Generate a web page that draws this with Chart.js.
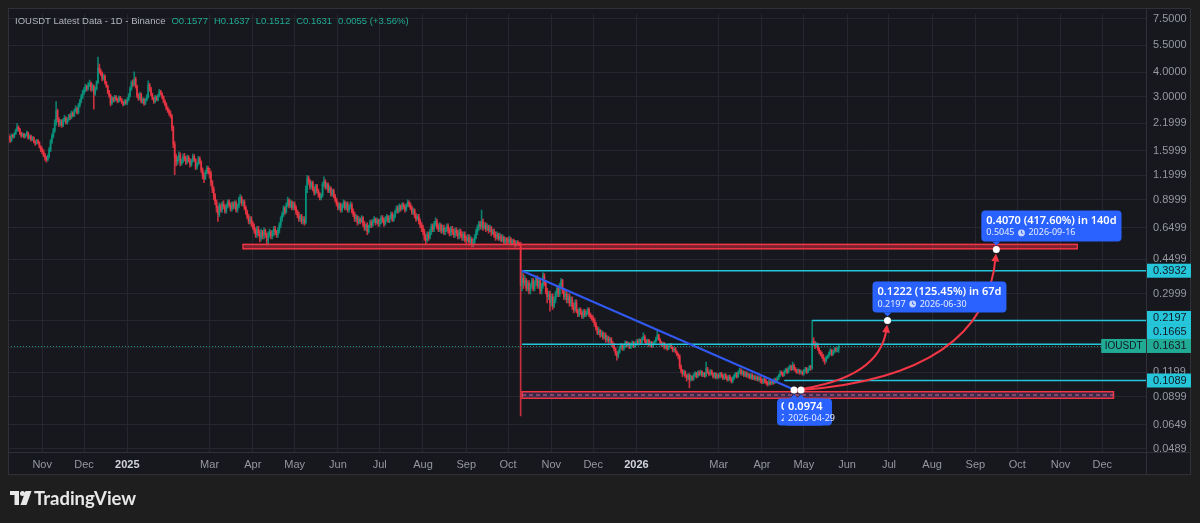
<!DOCTYPE html>
<html>
<head>
<meta charset="utf-8">
<script src="https://cdn.jsdelivr.net/npm/chart.js@4.4.1/dist/chart.umd.min.js"></script>
<style>
  html, body { margin: 0; padding: 0; background: #1e1e1e; }
</style>
</head>
<body>
<canvas id="chart" width="1200" height="523"></canvas>
<script>
// daily IOUSDT candles, day 0 = 2024-10-08
const firstOpen = 1.90;
const closes = [
  // Oct 2024
  1.86, 1.80, 1.92, 1.88, 1.95, 2.02, 2.10, 2.05, 1.96, 1.90, 1.94, 1.88, 1.92, 1.97, 1.85, 1.90, 1.82, 1.86, 1.78, 1.74, 1.80, 1.76, 1.68, 1.62,
  // Nov
  1.58, 1.52, 1.47, 1.44, 1.50, 1.62, 1.78, 1.90, 2.02, 2.20, 2.55, 2.30, 2.18, 2.25, 2.15, 2.28, 2.35, 2.22, 2.30, 2.40, 2.36, 2.48, 2.42, 2.55, 2.62, 2.50, 2.72, 2.85, 3.00, 3.15,
  // Dec
  3.25, 3.38, 3.30, 3.45, 3.52, 3.28, 3.40, 3.12, 3.30, 3.55, 4.20, 4.05, 3.95, 3.70, 3.82, 3.55, 3.40, 3.20, 3.05, 2.78, 2.95, 2.88, 3.00, 2.92, 2.85, 2.98, 2.90, 2.82, 2.75, 2.86, 2.80,
  // Jan 2025
  2.92, 3.05, 3.30, 3.55, 3.48, 3.70, 3.40, 3.05, 2.95, 3.10, 2.85, 2.92, 2.78, 2.90, 3.00, 3.45, 3.30, 3.10, 2.95, 2.85, 3.00, 2.90, 3.05, 3.20, 3.12, 3.00, 2.85, 2.75, 2.62, 2.55, 2.48,
  // Feb
  2.40, 2.10, 1.72, 1.48, 1.40, 1.45, 1.52, 1.38, 1.42, 1.50, 1.46, 1.40, 1.48, 1.43, 1.36, 1.42, 1.50, 1.44, 1.32, 1.38, 1.46, 1.40, 1.28, 1.20, 1.16, 1.24, 1.30, 1.25,
  // Mar
  1.22, 1.10, 1.02, 0.94, 0.88, 0.82, 0.76, 0.84, 0.80, 0.86, 0.83, 0.79, 0.84, 0.88, 0.85, 0.81, 0.86, 0.83, 0.87, 0.80, 0.84, 0.90, 0.92, 0.86, 0.88, 0.82, 0.78, 0.74, 0.70, 0.72, 0.68,
  // Apr
  0.66, 0.63, 0.60, 0.64, 0.61, 0.58, 0.62, 0.59, 0.63, 0.60, 0.56, 0.60, 0.62, 0.59, 0.61, 0.64, 0.62, 0.60, 0.63, 0.67, 0.72, 0.76, 0.82, 0.78, 0.85, 0.90, 0.84, 0.88, 0.82, 0.86,
  // May
  0.82, 0.78, 0.75, 0.72, 0.74, 0.70, 0.72, 0.69, 1.02, 1.16, 1.12, 1.05, 1.10, 1.02, 0.98, 1.06, 1.00, 0.96, 0.92, 0.95, 1.08, 1.12, 1.04, 1.08, 1.00, 1.03, 0.96, 1.00, 0.94, 0.90, 0.86,
  // Jun
  0.82, 0.85, 0.80, 0.84, 0.87, 0.82, 0.86, 0.80, 0.83, 0.85, 0.79, 0.76, 0.72, 0.74, 0.69, 0.72, 0.70, 0.73, 0.68, 0.65, 0.67, 0.62, 0.66, 0.69, 0.67, 0.70, 0.72, 0.69, 0.71, 0.68,
  // Jul
  0.70, 0.73, 0.71, 0.68, 0.72, 0.74, 0.70, 0.73, 0.76, 0.71, 0.74, 0.78, 0.82, 0.79, 0.84, 0.81, 0.85, 0.83, 0.80, 0.84, 0.87, 0.85, 0.82, 0.78, 0.80, 0.75, 0.72, 0.74, 0.70, 0.67, 0.65,
  // Aug
  0.62, 0.58, 0.56, 0.60, 0.58, 0.62, 0.66, 0.64, 0.68, 0.70, 0.66, 0.64, 0.67, 0.63, 0.65, 0.62, 0.64, 0.66, 0.63, 0.61, 0.64, 0.62, 0.60, 0.63, 0.61, 0.59, 0.62, 0.60, 0.58, 0.60, 0.57,
  // Sep
  0.56, 0.58, 0.55, 0.57, 0.54, 0.55, 0.58, 0.62, 0.65, 0.68, 0.66, 0.70, 0.65, 0.67, 0.64, 0.66, 0.63, 0.65, 0.61, 0.62, 0.60, 0.58, 0.60, 0.57, 0.59, 0.56, 0.58, 0.55, 0.57, 0.56,
  // Oct
  0.55, 0.57, 0.54, 0.56, 0.55, 0.53, 0.55, 0.54, 0.53, 0.33, 0.36, 0.34, 0.35, 0.32, 0.34, 0.31, 0.33, 0.35, 0.32, 0.34, 0.36, 0.33, 0.35, 0.31, 0.33, 0.37, 0.34, 0.31, 0.29, 0.30, 0.27,
  // Nov
  0.29, 0.26, 0.28, 0.30, 0.32, 0.30, 0.33, 0.35, 0.31, 0.29, 0.30, 0.28, 0.29, 0.27, 0.28, 0.26, 0.25, 0.27, 0.245, 0.235, 0.25, 0.24, 0.23, 0.245, 0.235, 0.24, 0.25, 0.235, 0.23, 0.225,
  // Dec
  0.22, 0.21, 0.20, 0.19, 0.195, 0.185, 0.19, 0.18, 0.185, 0.175, 0.18, 0.172, 0.178, 0.168, 0.165, 0.158, 0.15, 0.145, 0.152, 0.16, 0.165, 0.158, 0.162, 0.17, 0.164, 0.168, 0.16, 0.166, 0.17, 0.163, 0.167,
  // Jan 2026
  0.172, 0.168, 0.175, 0.17, 0.178, 0.182, 0.172, 0.168, 0.174, 0.165, 0.17, 0.163, 0.168, 0.172, 0.178, 0.185, 0.176, 0.17, 0.165, 0.168, 0.16, 0.164, 0.158, 0.162, 0.165, 0.16, 0.155, 0.158, 0.152, 0.148, 0.145,
  // Feb
  0.128, 0.122, 0.118, 0.121, 0.115, 0.112, 0.116, 0.11, 0.114, 0.111, 0.116, 0.119, 0.114, 0.12, 0.117, 0.121, 0.116, 0.119, 0.115, 0.125, 0.12, 0.117, 0.122, 0.118, 0.114, 0.118, 0.113, 0.116,
  // Mar
  0.114, 0.118, 0.115, 0.112, 0.116, 0.113, 0.11, 0.114, 0.111, 0.108, 0.112, 0.115, 0.118, 0.114, 0.12, 0.123, 0.118, 0.121, 0.116, 0.119, 0.115, 0.117, 0.113, 0.116, 0.112, 0.114, 0.111, 0.113, 0.11, 0.112, 0.109,
  // Apr
  0.107, 0.11, 0.108, 0.106, 0.104, 0.107, 0.105, 0.108, 0.106, 0.11, 0.108, 0.112, 0.115, 0.12, 0.118, 0.116, 0.121, 0.124, 0.12, 0.126, 0.128, 0.124, 0.13, 0.125, 0.122, 0.12, 0.123, 0.119, 0.121, 0.118,
  // May
  0.122, 0.125, 0.12, 0.124, 0.128, 0.126, 0.172, 0.168, 0.162, 0.165, 0.158, 0.152, 0.148, 0.145, 0.14, 0.137, 0.142, 0.145, 0.15, 0.155, 0.148, 0.152, 0.158, 0.155, 0.1576, 0.1631
];
const highs = [
  1.95, 1.90, 1.95, 1.94, 1.98, 2.06, 2.20, 2.14, 2.08, 1.99, 1.97, 1.96, 1.95, 2.01, 1.99, 1.93, 1.92, 1.89, 1.88, 1.80, 1.83, 1.82, 1.78, 1.70,
  1.66, 1.62, 1.55, 1.50, 1.53, 1.66, 1.82, 1.95, 2.08, 2.30, 2.84, 2.60, 2.36, 2.30, 2.30, 2.33, 2.42, 2.38, 2.34, 2.45, 2.46, 2.54, 2.52, 2.60, 2.70, 2.66, 2.78, 2.92, 3.08, 3.25,
  3.35, 3.48, 3.45, 3.55, 3.65, 3.58, 3.50, 3.46, 3.38, 3.62, 4.78, 4.40, 4.15, 4.02, 3.92, 3.88, 3.60, 3.45, 3.24, 3.10, 3.02, 2.99, 3.06, 3.05, 2.96, 3.04, 3.02, 2.95, 2.85, 2.92, 2.90,
  2.98, 3.12, 3.38, 3.62, 3.66, 4.02, 3.78, 3.45, 3.12, 3.18, 3.14, 2.98, 2.96, 2.95, 3.08, 3.62, 3.52, 3.36, 3.14, 2.99, 3.06, 3.04, 3.10, 3.28, 3.24, 3.15, 3.04, 2.90, 2.80, 2.68, 2.60,
  2.55, 2.44, 2.14, 1.78, 1.54, 1.50, 1.58, 1.56, 1.46, 1.54, 1.55, 1.50, 1.52, 1.51, 1.46, 1.45, 1.54, 1.53, 1.46, 1.40, 1.50, 1.49, 1.42, 1.31, 1.24, 1.27, 1.34, 1.33,
  1.30, 1.26, 1.13, 1.05, 0.97, 0.90, 0.84, 0.87, 0.86, 0.88, 0.89, 0.85, 0.86, 0.90, 0.90, 0.87, 0.88, 0.88, 0.89, 0.89, 0.86, 0.93, 0.96, 0.94, 0.90, 0.90, 0.84, 0.80, 0.76, 0.74, 0.74,
  0.70, 0.68, 0.65, 0.66, 0.66, 0.63, 0.64, 0.63, 0.65, 0.64, 0.61, 0.62, 0.64, 0.63, 0.63, 0.66, 0.66, 0.63, 0.65, 0.69, 0.74, 0.78, 0.84, 0.83, 0.87, 0.93, 0.91, 0.90, 0.89, 0.88,
  0.88, 0.84, 0.80, 0.78, 0.76, 0.76, 0.74, 0.74, 1.06, 1.20, 1.19, 1.14, 1.12, 1.12, 1.05, 1.08, 1.08, 1.02, 0.98, 0.97, 1.11, 1.18, 1.14, 1.10, 1.10, 1.06, 1.05, 1.02, 1.02, 0.96, 0.92,
  0.88, 0.87, 0.87, 0.86, 0.90, 0.89, 0.88, 0.88, 0.85, 0.88, 0.87, 0.81, 0.78, 0.76, 0.75, 0.74, 0.73, 0.75, 0.74, 0.70, 0.68, 0.69, 0.67, 0.71, 0.71, 0.72, 0.74, 0.73, 0.73, 0.72,
  0.72, 0.75, 0.75, 0.73, 0.74, 0.76, 0.75, 0.75, 0.78, 0.78, 0.76, 0.80, 0.84, 0.84, 0.86, 0.85, 0.87, 0.87, 0.85, 0.86, 0.90, 0.89, 0.87, 0.84, 0.82, 0.81, 0.77, 0.76, 0.76, 0.72, 0.69,
  0.67, 0.64, 0.60, 0.62, 0.62, 0.64, 0.68, 0.68, 0.70, 0.73, 0.72, 0.68, 0.69, 0.68, 0.67, 0.67, 0.65, 0.68, 0.68, 0.65, 0.66, 0.66, 0.64, 0.65, 0.65, 0.63, 0.64, 0.64, 0.62, 0.62, 0.62,
  0.59, 0.60, 0.60, 0.59, 0.58, 0.57, 0.60, 0.64, 0.67, 0.70, 0.70, 0.80, 0.72, 0.69, 0.69, 0.68, 0.67, 0.67, 0.66, 0.64, 0.64, 0.62, 0.62, 0.61, 0.61, 0.60, 0.60, 0.59, 0.58, 0.58,
  0.58, 0.59, 0.58, 0.57, 0.57, 0.56, 0.56, 0.56, 0.55, 0.55, 0.393, 0.38, 0.37, 0.36, 0.35, 0.35, 0.34, 0.36, 0.36, 0.35, 0.37, 0.37, 0.36, 0.36, 0.34, 0.385, 0.38, 0.35, 0.32, 0.31, 0.31,
  0.30, 0.30, 0.29, 0.31, 0.33, 0.33, 0.34, 0.36, 0.355, 0.32, 0.31, 0.31, 0.30, 0.30, 0.29, 0.29, 0.27, 0.28, 0.28, 0.25, 0.255, 0.255, 0.245, 0.25, 0.25, 0.245, 0.255, 0.255, 0.24, 0.235,
  0.232, 0.226, 0.215, 0.205, 0.202, 0.198, 0.196, 0.193, 0.19, 0.19, 0.184, 0.183, 0.18, 0.18, 0.172, 0.168, 0.16, 0.153, 0.156, 0.163, 0.168, 0.167, 0.165, 0.173, 0.172, 0.171, 0.17, 0.168, 0.173, 0.172, 0.17,
  0.175, 0.176, 0.178, 0.177, 0.181, 0.19, 0.185, 0.176, 0.177, 0.176, 0.172, 0.172, 0.17, 0.174, 0.181, 0.196, 0.187, 0.178, 0.172, 0.17, 0.17, 0.166, 0.166, 0.164, 0.168, 0.167, 0.162, 0.16, 0.16, 0.154, 0.15,
  0.147, 0.131, 0.124, 0.123, 0.122, 0.117, 0.118, 0.118, 0.116, 0.115, 0.118, 0.121, 0.12, 0.122, 0.122, 0.123, 0.122, 0.12, 0.12, 0.135, 0.127, 0.121, 0.124, 0.123, 0.119, 0.12, 0.119, 0.118,
  0.118, 0.12, 0.12, 0.117, 0.118, 0.118, 0.115, 0.116, 0.116, 0.113, 0.114, 0.117, 0.12, 0.12, 0.122, 0.126, 0.125, 0.123, 0.122, 0.121, 0.121, 0.119, 0.118, 0.118, 0.118, 0.116, 0.116, 0.115, 0.115, 0.114, 0.114,
  0.111, 0.112, 0.112, 0.11, 0.108, 0.109, 0.109, 0.11, 0.11, 0.112, 0.112, 0.114, 0.117, 0.122, 0.122, 0.12, 0.123, 0.126, 0.126, 0.128, 0.131, 0.13, 0.135, 0.132, 0.127, 0.124, 0.125, 0.124, 0.123, 0.122,
  0.124, 0.127, 0.127, 0.126, 0.13, 0.13, 0.2197, 0.18, 0.172, 0.17, 0.168, 0.16, 0.155, 0.152, 0.148, 0.142, 0.145, 0.147, 0.152, 0.158, 0.157, 0.155, 0.16, 0.16, 0.16, 0.1637
];
const lows = [
  1.82, 1.76, 1.78, 1.85, 1.86, 1.93, 2.00, 2.01, 1.93, 1.87, 1.88, 1.85, 1.86, 1.90, 1.83, 1.83, 1.79, 1.80, 1.75, 1.70, 1.72, 1.73, 1.65, 1.58,
  1.54, 1.49, 1.43, 1.40, 1.42, 1.47, 1.58, 1.74, 1.86, 1.98, 2.15, 2.24, 2.12, 2.14, 2.10, 2.12, 2.24, 2.18, 2.18, 2.26, 2.30, 2.32, 2.38, 2.38, 2.50, 2.45, 2.46, 2.66, 2.80, 2.94,
  3.08, 3.18, 3.22, 3.25, 3.38, 3.20, 3.22, 2.60, 3.05, 3.25, 3.50, 3.95, 3.85, 3.62, 3.65, 3.48, 3.35, 3.12, 2.98, 2.70, 2.74, 2.82, 2.84, 2.88, 2.80, 2.82, 2.86, 2.78, 2.70, 2.72, 2.76,
  2.74, 2.86, 3.00, 3.24, 3.38, 3.42, 3.32, 2.98, 2.88, 2.90, 2.80, 2.78, 2.72, 2.74, 2.86, 2.96, 3.20, 3.04, 2.90, 2.78, 2.80, 2.86, 2.86, 3.00, 3.06, 2.94, 2.80, 2.70, 2.58, 2.50, 2.42,
  2.35, 2.02, 1.66, 1.21, 1.34, 1.36, 1.42, 1.34, 1.35, 1.39, 1.42, 1.36, 1.38, 1.40, 1.32, 1.33, 1.40, 1.41, 1.28, 1.29, 1.35, 1.37, 1.24, 1.15, 1.10, 1.14, 1.22, 1.22,
  1.16, 1.06, 0.98, 0.90, 0.85, 0.78, 0.70, 0.74, 0.78, 0.78, 0.81, 0.77, 0.77, 0.82, 0.83, 0.79, 0.79, 0.81, 0.81, 0.78, 0.78, 0.82, 0.87, 0.84, 0.84, 0.80, 0.76, 0.72, 0.68, 0.68, 0.66,
  0.64, 0.61, 0.58, 0.58, 0.59, 0.55, 0.56, 0.57, 0.57, 0.58, 0.53, 0.54, 0.58, 0.57, 0.57, 0.59, 0.60, 0.58, 0.58, 0.61, 0.65, 0.70, 0.74, 0.76, 0.77, 0.83, 0.82, 0.82, 0.80, 0.80,
  0.80, 0.76, 0.73, 0.70, 0.70, 0.68, 0.68, 0.67, 0.68, 0.98, 1.08, 1.02, 1.02, 1.00, 0.95, 0.96, 0.98, 0.93, 0.90, 0.90, 0.93, 1.05, 1.02, 1.02, 0.98, 0.98, 0.94, 0.94, 0.92, 0.88, 0.84,
  0.80, 0.80, 0.78, 0.78, 0.82, 0.80, 0.80, 0.78, 0.78, 0.81, 0.77, 0.74, 0.70, 0.70, 0.67, 0.68, 0.68, 0.69, 0.66, 0.63, 0.63, 0.60, 0.61, 0.65, 0.65, 0.66, 0.69, 0.67, 0.68, 0.66,
  0.66, 0.68, 0.69, 0.66, 0.67, 0.70, 0.69, 0.69, 0.72, 0.70, 0.70, 0.73, 0.77, 0.77, 0.78, 0.79, 0.80, 0.81, 0.78, 0.79, 0.83, 0.83, 0.80, 0.76, 0.76, 0.73, 0.70, 0.71, 0.68, 0.65, 0.62,
  0.60, 0.56, 0.54, 0.55, 0.56, 0.57, 0.60, 0.62, 0.62, 0.66, 0.64, 0.62, 0.62, 0.61, 0.61, 0.60, 0.60, 0.62, 0.61, 0.59, 0.59, 0.60, 0.58, 0.58, 0.59, 0.57, 0.57, 0.58, 0.56, 0.56, 0.55,
  0.54, 0.55, 0.53, 0.54, 0.52, 0.52, 0.54, 0.57, 0.60, 0.63, 0.64, 0.64, 0.63, 0.64, 0.62, 0.63, 0.61, 0.62, 0.59, 0.60, 0.58, 0.56, 0.57, 0.56, 0.56, 0.55, 0.55, 0.54, 0.54, 0.54,
  0.54, 0.54, 0.53, 0.53, 0.54, 0.52, 0.52, 0.53, 0.52, 0.072, 0.31, 0.32, 0.33, 0.31, 0.31, 0.30, 0.30, 0.32, 0.31, 0.31, 0.33, 0.32, 0.32, 0.30, 0.30, 0.32, 0.33, 0.30, 0.27, 0.28, 0.245,
  0.26, 0.25, 0.255, 0.27, 0.29, 0.29, 0.29, 0.32, 0.30, 0.28, 0.28, 0.27, 0.27, 0.26, 0.26, 0.25, 0.24, 0.245, 0.24, 0.23, 0.23, 0.235, 0.225, 0.225, 0.23, 0.23, 0.235, 0.23, 0.225, 0.22,
  0.215, 0.205, 0.196, 0.186, 0.186, 0.18, 0.182, 0.176, 0.177, 0.17, 0.172, 0.168, 0.17, 0.164, 0.16, 0.154, 0.146, 0.138, 0.142, 0.15, 0.157, 0.155, 0.155, 0.16, 0.161, 0.162, 0.158, 0.158, 0.163, 0.16, 0.16,
  0.164, 0.165, 0.165, 0.167, 0.168, 0.175, 0.17, 0.165, 0.166, 0.162, 0.163, 0.16, 0.161, 0.166, 0.17, 0.175, 0.174, 0.168, 0.162, 0.163, 0.157, 0.158, 0.155, 0.156, 0.16, 0.158, 0.152, 0.153, 0.15, 0.145, 0.14,
  0.125, 0.119, 0.114, 0.116, 0.113, 0.108, 0.11, 0.1, 0.108, 0.109, 0.109, 0.114, 0.112, 0.113, 0.115, 0.116, 0.114, 0.114, 0.113, 0.114, 0.118, 0.115, 0.116, 0.116, 0.112, 0.112, 0.111, 0.111,
  0.112, 0.112, 0.113, 0.11, 0.11, 0.111, 0.108, 0.108, 0.109, 0.106, 0.106, 0.11, 0.113, 0.112, 0.113, 0.118, 0.116, 0.116, 0.114, 0.114, 0.113, 0.113, 0.111, 0.111, 0.11, 0.11, 0.109, 0.109, 0.108, 0.108, 0.106,
  0.105, 0.105, 0.106, 0.104, 0.102, 0.103, 0.103, 0.104, 0.104, 0.105, 0.106, 0.107, 0.11, 0.114, 0.116, 0.114, 0.115, 0.119, 0.118, 0.119, 0.124, 0.122, 0.123, 0.123, 0.12, 0.118, 0.119, 0.117, 0.118, 0.116,
  0.116, 0.12, 0.118, 0.119, 0.122, 0.123, 0.124, 0.164, 0.158, 0.16, 0.155, 0.149, 0.145, 0.141, 0.136, 0.132, 0.135, 0.14, 0.143, 0.147, 0.145, 0.146, 0.15, 0.152, 0.152, 0.1512
];
const opens = closes.map((c, i) => (i === 0 ? firstOpen : closes[i - 1]));
opens[opens.length - 1] = 0.1577;
const lastChange = '0.0055 (+3.56%)';

// axis ticks
const priceTicks = [7.5, 5.5, 4, 3, 2.1999, 1.5999, 1.1999, 0.8999, 0.6499, 0.4499, 0.2999, 0.2199, 0.1599, 0.1199, 0.0899, 0.0649, 0.0489];
const monthTicks = [24, 54, 85, 144, 175, 205, 236, 266, 297, 328, 358, 389, 419, 450, 509, 540, 570, 601, 631, 662, 693, 723, 754, 784];
const monthLabels = ['Nov', 'Dec', '2025', 'Mar', 'Apr', 'May', 'Jun', 'Jul', 'Aug', 'Sep', 'Oct', 'Nov', 'Dec', '2026', 'Mar', 'Apr', 'May', 'Jun', 'Jul', 'Aug', 'Sep', 'Oct', 'Nov', 'Dec'];

// drawings (day index, price)
const bands = [
  { from: 168, to: 766, top: 0.535, bottom: 0.508 },
  { from: 368, to: 792, top: 0.0955, bottom: 0.0885 }
];
const levels = [
  { price: 0.3932, from: 368 },
  { price: 0.2197, from: 576 },
  { price: 0.1665, from: 368 },
  { price: 0.1089, from: 556 }
];
const trendLine = [[368, 0.393], [562, 0.0986]];
const measures = [
  { start: [563, 0.0974], end: [630, 0.2197], ctrl: [625, 0.111], startDate: '2026-04-24',
    title: '0.1222 (125.45%) in 67d', price: '0.2197', date: '2026-06-30' },
  { start: [568, 0.0974], end: [708, 0.5045], ctrl: [700, 0.115], startDate: '2026-04-29',
    title: '0.4070 (417.60%) in 140d', price: '0.5045', date: '2026-09-16' }
];

const UP = 'rgba(8,153,129,0.8)', DOWN = 'rgba(242,54,69,0.8)';
const CYAN = '#26c6da', LABEL_BLUE = '#2962ff', GREEN = '#22ab94';
const FONT = '"Noto Sans", sans-serif';
const AXIS_FONT = '"Liberation Sans", sans-serif';
const candleColors = closes.map((c, i) => (c >= opens[i] ? UP : DOWN));

const background = {
  id: 'background',
  beforeDraw(chart) {
    const { ctx, width, height } = chart;
    ctx.save();
    ctx.fillStyle = '#1e1e1e';
    ctx.fillRect(0, 0, width, height);
    ctx.fillStyle = '#17181e';
    ctx.fillRect(8, 8, 1183, 467);
    ctx.restore();
  }
};

function drawClock(ctx, x, y) {
  ctx.beginPath();
  ctx.arc(x, y, 3.4, 0, Math.PI * 2);
  ctx.fillStyle = 'rgba(255,255,255,0.75)';
  ctx.fill();
  ctx.strokeStyle = LABEL_BLUE;
  ctx.lineWidth = 1;
  ctx.beginPath();
  ctx.moveTo(x, y - 2.2); ctx.lineTo(x, y); ctx.lineTo(x + 1.8, y + 0.8);
  ctx.stroke();
}

function roundBox(ctx, x, y, w, h, r) {
  ctx.beginPath();
  ctx.roundRect(x, y, w, h, r);
  ctx.fill();
}

const overlay = {
  id: 'overlay',
  afterDatasetsDraw(chart) {
    const { ctx, chartArea: a, scales: { x, y } } = chart;
    const px = d => x.getPixelForValue(d);
    const py = p => y.getPixelForValue(p);
    ctx.save();
    ctx.beginPath();
    ctx.rect(a.left, a.top, a.right - a.left, a.bottom - a.top);
    ctx.clip();

    // support / resistance zones
    bands.forEach((b, i) => {
      const x0 = px(b.from), x1 = px(b.to), y0 = py(b.top), y1 = py(b.bottom);
      ctx.fillStyle = i === 0 ? 'rgba(242,54,69,0.45)' : 'rgba(110,70,150,0.35)';
      ctx.fillRect(x0, y0, x1 - x0, y1 - y0);
      ctx.strokeStyle = '#f23645';
      ctx.lineWidth = 1.5;
      ctx.strokeRect(x0, y0, x1 - x0, y1 - y0);
      ctx.setLineDash([4, 3]);
      ctx.lineWidth = 1;
      ctx.strokeStyle = i === 0 ? 'rgba(150,20,40,0.9)' : 'rgba(240,110,150,0.9)';
      ctx.beginPath();
      ctx.moveTo(x0, (y0 + y1) / 2); ctx.lineTo(x1, (y0 + y1) / 2);
      ctx.stroke();
      ctx.setLineDash([]);
    });

    // last price dotted line
    const lastY = py(closes[closes.length - 1]);
    ctx.strokeStyle = 'rgba(34,171,148,0.8)';
    ctx.lineWidth = 1;
    ctx.setLineDash([1, 2]);
    ctx.beginPath();
    ctx.moveTo(a.left, Math.round(lastY) + 0.5); ctx.lineTo(a.right, Math.round(lastY) + 0.5);
    ctx.stroke();
    ctx.setLineDash([]);

    // horizontal rays
    ctx.strokeStyle = CYAN;
    ctx.lineWidth = 1.5;
    levels.forEach(l => {
      ctx.beginPath();
      ctx.moveTo(px(l.from), py(l.price)); ctx.lineTo(a.right, py(l.price));
      ctx.stroke();
    });

    // trend line
    ctx.strokeStyle = '#3159f0';
    ctx.lineWidth = 2;
    ctx.beginPath();
    ctx.moveTo(px(trendLine[0][0]), py(trendLine[0][1]));
    ctx.lineTo(px(trendLine[1][0]), py(trendLine[1][1]));
    ctx.stroke();

    // projection arrows
    measures.forEach(m => {
      const sx = px(m.start[0]), sy = py(m.start[1]);
      const ex = px(m.end[0]), ey = py(m.end[1]);
      const cx = px(m.ctrl[0]), cy = py(m.ctrl[1]);
      const len = Math.hypot(ex - cx, ey - cy);
      const ux = (ex - cx) / len, uy = (ey - cy) / len;
      const tipX = ex - ux * 4, tipY = ey - uy * 4;
      ctx.strokeStyle = '#f23645';
      ctx.lineWidth = 2;
      ctx.beginPath();
      ctx.moveTo(sx, sy);
      ctx.quadraticCurveTo(cx, cy, tipX - ux * 4, tipY - uy * 4);
      ctx.stroke();
      ctx.fillStyle = '#f23645';
      ctx.beginPath();
      ctx.moveTo(tipX, tipY);
      ctx.lineTo(tipX - ux * 8 - uy * 4, tipY - uy * 8 + ux * 4);
      ctx.lineTo(tipX - ux * 8 + uy * 4, tipY - uy * 8 - ux * 4);
      ctx.closePath();
      ctx.fill();
    });

    // dots
    measures.forEach(m => {
      [m.start, m.end].forEach(p => {
        ctx.beginPath();
        ctx.arc(px(p[0]), py(p[1]), 3.5, 0, Math.PI * 2);
        ctx.fillStyle = '#ffffff';
        ctx.fill();
      });
    });
    ctx.restore();

    // measurement labels
    ctx.save();
    ctx.textBaseline = 'middle';
    const TITLE = '600 11px ' + FONT, SUB = '9px ' + FONT;
    measures.forEach(m => {
      const dx = px(m.end[0]), dy = py(m.end[1]);
      ctx.font = TITLE;
      const w1 = ctx.measureText(m.title).width;
      const left = dx - 15, bottom = dy - 8, top = bottom - 31;
      ctx.fillStyle = LABEL_BLUE;
      roundBox(ctx, left, top, w1 + 10, 31, 4);
      ctx.beginPath();
      ctx.moveTo(dx - 4, bottom); ctx.lineTo(dx + 4, bottom); ctx.lineTo(dx, bottom + 4);
      ctx.fill();
      ctx.fillStyle = '#ffffff';
      ctx.fillText(m.title, left + 5, top + 10);
      ctx.font = SUB;
      ctx.fillStyle = '#e6ebff';
      ctx.fillText(m.price, left + 5, top + 22.5);
      const pw = ctx.measureText(m.price).width;
      drawClock(ctx, left + 5 + pw + 7, top + 22.5);
      ctx.fillStyle = '#e6ebff';
      ctx.fillText(m.date, left + 5 + pw + 14, top + 22.5);
    });
    measures.forEach(m => {
      const dx = px(m.start[0]), dy = py(m.start[1]);
      const left = dx - 17, top = dy + 8.5;
      ctx.fillStyle = LABEL_BLUE;
      roundBox(ctx, left, top, 48, 27, 4);
      ctx.beginPath();
      ctx.moveTo(dx - 4, top); ctx.lineTo(dx + 4, top); ctx.lineTo(dx, top - 4);
      ctx.fill();
      ctx.font = TITLE;
      ctx.fillStyle = '#ffffff';
      ctx.fillText(m.start[1].toFixed(4), left + 4, top + 8.5);
      ctx.font = SUB;
      ctx.fillStyle = '#e6ebff';
      ctx.fillText(m.startDate, left + 4, top + 20);
    });
    ctx.restore();
  },
  afterDraw(chart) {
    const { ctx, chartArea: a, scales: { y } } = chart;
    ctx.save();
    // frame and separators
    ctx.strokeStyle = '#2f3038';
    ctx.lineWidth = 1;
    ctx.strokeRect(8.5, 8.5, 1182, 466);
    ctx.beginPath();
    ctx.moveTo(a.right + 0.5, 8); ctx.lineTo(a.right + 0.5, 475);
    ctx.moveTo(8, a.bottom + 0.5); ctx.lineTo(1191, a.bottom + 0.5);
    ctx.stroke();

    // price axis labels
    const h = 14;
    const last = closes[closes.length - 1];
    const placed = [{ y: y.getPixelForValue(last), text: last.toFixed(4), bg: GREEN }];
    levels.slice().sort((p, q) => p.price - q.price).forEach(l => {
      let yy = y.getPixelForValue(l.price);
      placed.forEach(p => {
        if (Math.abs(yy - p.y) < h) yy = p.y - h;
      });
      placed.push({ y: yy, text: l.price.toFixed(4), bg: CYAN });
    });
    ctx.font = '11px ' + AXIS_FONT;
    ctx.textBaseline = 'middle';
    placed.forEach(p => {
      ctx.fillStyle = p.bg;
      ctx.fillRect(a.right + 1, p.y - h / 2, 44, h);
      ctx.fillStyle = '#131722';
      ctx.fillText(p.text, a.right + 7, p.y + 0.5);
    });
    const ly = placed[0].y;
    ctx.font = '10px ' + AXIS_FONT;
    const tw = ctx.measureText('IOUSDT').width;
    ctx.fillStyle = GREEN;
    ctx.fillRect(a.right - tw - 7, ly - h / 2, tw + 7, h);
    ctx.fillStyle = '#131722';
    ctx.fillText('IOUSDT', a.right - tw - 3.5, ly + 0.5);

    // header
    let hx = 15;
    ctx.font = '9.5px ' + AXIS_FONT;
    ctx.fillStyle = '#b2b5be';
    const head = 'IOUSDT Latest Data - 1D - Binance';
    ctx.fillText(head, hx, 21);
    hx += ctx.measureText(head).width + 6;
    const n = closes.length - 1;
    const parts = ['O' + opens[n].toFixed(4), 'H' + highs[n].toFixed(4), 'L' + lows[n].toFixed(4), 'C' + closes[n].toFixed(4), lastChange];
    ctx.fillStyle = GREEN;
    parts.forEach(t => {
      ctx.fillText(t, hx, 21);
      hx += ctx.measureText(t).width + 6;
    });

    // TradingView logo
    ctx.fillStyle = '#e8e8e8';
    ctx.fillRect(10, 491, 9, 4);
    ctx.fillRect(14.5, 491, 4.5, 14);
    ctx.beginPath();
    ctx.arc(22.5, 493.5, 2.5, 0, Math.PI * 2);
    ctx.fill();
    ctx.beginPath();
    ctx.moveTo(25.5, 491); ctx.lineTo(31.5, 491); ctx.lineTo(26.5, 505); ctx.lineTo(20.5, 505);
    ctx.closePath();
    ctx.fill();
    ctx.font = 'bold 18.5px Lato, ' + FONT;
    ctx.textBaseline = 'alphabetic';
    ctx.fillText('TradingView', 34, 505);
    ctx.restore();
  }
};

new Chart(document.getElementById('chart'), {
  type: 'bar',
  data: {
    datasets: [
      {
        label: 'wicks',
        data: closes.map((c, i) => ({ x: i, y: [lows[i], highs[i]] })),
        backgroundColor: candleColors,
        barThickness: 1,
        grouped: false,
        order: 2
      },
      {
        label: 'bodies',
        data: closes.map((c, i) => ({ x: i, y: [opens[i], c] })),
        backgroundColor: candleColors,
        barThickness: 1,
        minBarLength: 1,
        grouped: false,
        order: 1
      }
    ]
  },
  options: {
    responsive: false,
    animation: false,
    devicePixelRatio: 1,
    layout: { padding: { left: 8, top: 9, right: 9, bottom: 48 } },
    plugins: { legend: { display: false }, tooltip: { enabled: false } },
    scales: {
      x: {
        type: 'linear',
        min: -0.5,
        max: 815.3,
        offset: false,
        grid: { color: '#26272e', drawTicks: false, offset: false },
        border: { display: false },
        afterBuildTicks: s => { s.ticks = monthTicks.map(v => ({ value: v })); },
        afterFit: s => { s.height = 23; },
        ticks: {
          autoSkip: false,
          maxRotation: 0,
          padding: 6,
          color: ctx => (/^\d{4}$/.test(monthLabels[ctx.index]) ? '#d1d4dc' : '#9598a1'),
          font: ctx => ({ family: AXIS_FONT, size: 11, weight: /^\d{4}$/.test(monthLabels[ctx.index]) ? 'bold' : 'normal' }),
          callback: (v, i) => monthLabels[i]
        }
      },
      y: {
        type: 'logarithmic',
        position: 'right',
        min: 0.0472,
        max: 7.95,
        grid: { color: '#26272e', drawTicks: false },
        border: { display: false },
        afterBuildTicks: s => { s.ticks = priceTicks.map(v => ({ value: v })); },
        afterFit: s => { s.width = 45; },
        ticks: {
          autoSkip: false,
          padding: 7,
          color: '#9598a1',
          font: { family: AXIS_FONT, size: 11 },
          callback: (v, i) => priceTicks[i].toFixed(4)
        }
      }
    }
  },
  plugins: [background, overlay]
});
</script>
</body>
</html>
